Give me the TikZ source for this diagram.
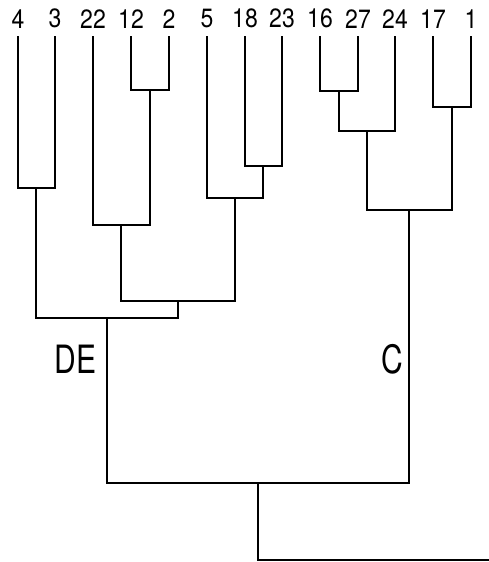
\documentclass[tikz,border=0pt]{standalone}
\usepackage{fontspec}
\setmainfont{TeX Gyre Heros}
\newcommand{\tallnum}[1]{\scalebox{1}[1.15]{#1}}
\newcommand{\tallgrp}[1]{\scalebox{1}[1.3]{#1}}
\begin{document}
\begin{tikzpicture}[x=1pt,y=-1pt,line width=1.3pt,
  lab/.style={font=\fontsize{23}{23}\selectfont, inner xsep=0pt, inner ysep=7pt, anchor=south},
  grp/.style={font=\fontsize{30}{30}\selectfont, inner sep=0pt}]
\useasboundingbox (0,0) rectangle (489,562);
% leaves
\node[lab] (n4)  at (18,36)  {\tallnum{4}};
\node[lab] (n3)  at (55,36)  {\tallnum{3}};
\node[lab] (n22) at (93,36)  {\tallnum{22}};
\node[lab] (n12) at (131,36) {\tallnum{12}};
\node[lab] (n2)  at (169,36) {\tallnum{2}};
\node[lab] (n5)  at (207,36) {\tallnum{5}};
\node[lab] (n18) at (245,36) {\tallnum{18}};
\node[lab] (n23) at (282,36) {\tallnum{23}};
\node[lab] (n16) at (320,36) {\tallnum{16}};
\node[lab] (n27) at (358,36) {\tallnum{27}};
\node[lab] (n24) at (395,36) {\tallnum{24}};
\node[lab] (n17) at (433,36) {\tallnum{17}};
\node[lab] (n1)  at (471,36) {\tallnum{1}};
% joins
\coordinate (c122)  at (150,90);
\coordinate (c1627) at (339,91);
\coordinate (c171)  at (452,107);
\coordinate (c43)   at (36,188);
\coordinate (c1823) at (263,166);
\coordinate (c24)   at (367,131);
\coordinate (c5)    at (235,198);
\coordinate (c22)   at (121,225);
\coordinate (cmid)  at (178,301);
\coordinate (cDE)   at (107,318);
\coordinate (cC)    at (409,210);
\coordinate (croot) at (258,483);
\coordinate (cend)  at (489,560);
\draw (n12.south) |- (c122) -| (n2.south);
\draw (n16.south) |- (c1627) -| (n27.south);
\draw (n17.south) |- (c171) -| (n1.south);
\draw (n4.south) |- (c43) -| (n3.south);
\draw (n18.south) |- (c1823) -| (n23.south);
\draw (c1627) |- (c24) -| (n24.south);
\draw (n5.south) |- (c5) -| (c1823);
\draw (n22.south) |- (c22) -| (c122);
\draw (c22) |- (cmid) -| (c5);
\draw (c43) |- (cDE) -| (cmid);
\draw (c24) |- (cC) -| (c171);
\draw (cDE) |- (croot) -| (cC);
\draw (croot) |- (cend);
% group labels
\node[grp] (DE) at (75.5,359) {\tallgrp{DE}};
\node[grp] (C)  at (392,359) {\tallgrp{C}};
\end{tikzpicture}
\end{document}
